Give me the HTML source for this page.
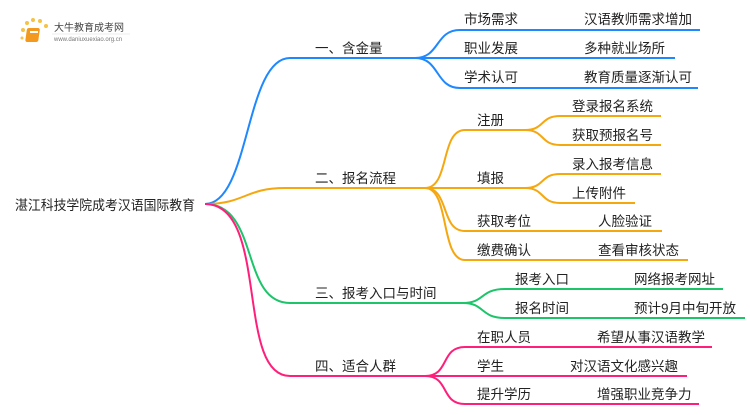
<!DOCTYPE html>
<html><head><meta charset="utf-8"><style>
html,body{margin:0;padding:0;background:#fff;}
svg text{font-family:"Liberation Sans","Noto Sans CJK SC",sans-serif;fill:#222;font-size:13.5px;}
</style></head><body>
<svg width="750" height="410" viewBox="0 0 750 410" xmlns="http://www.w3.org/2000/svg">
<g>
<circle cx="23" cy="30" r="2" fill="#f6c343"/><circle cx="27" cy="23" r="2" fill="#f6c343"/><circle cx="33" cy="20" r="2" fill="#f6c343"/><circle cx="40" cy="21" r="2" fill="#f6c343"/><circle cx="46" cy="26" r="2" fill="#f6c343"/><circle cx="22" cy="38" r="1.5" fill="#f6c343"/>
<rect x="31" y="28" width="13" height="14" rx="2" fill="#f39a1e" transform="skewX(-8)"/>
<rect x="30" y="31" width="8" height="2" fill="#fff"/>
<text x="54" y="31" style="font-size:10px;fill:#444">大牛教育成考网</text>
<text x="54" y="41" style="font-size:6px;fill:#777">www.daniuxuexiao.org.cn</text>
<line x1="52" y1="34" x2="130" y2="34" stroke="#ddd" stroke-width="0.5"/>
</g>
<g fill="none" stroke-width="2">
<path d="M205,204 C250,204 245,58 290,58 L415,58" stroke="#1e88ff"/>
<path d="M415,58 C440,58 435,30 460,30 L700,30" stroke="#1e88ff"/>
<path d="M415,58 L675,58" stroke="#1e88ff"/>
<path d="M415,58 C440,58 435,88 460,88 L698,88" stroke="#1e88ff"/>
<path d="M205,204 C245,204 245,188 285,188 L425,188" stroke="#f5a70f"/>
<path d="M425,188 C450,188 440,130 465,130 L525,130" stroke="#f5a70f"/>
<path d="M525,130 C545,130 540,116 560,116 L661,116" stroke="#f5a70f"/>
<path d="M525,130 C545,130 540,145 560,145 L661,145" stroke="#f5a70f"/>
<path d="M425,188 L525,188" stroke="#f5a70f"/>
<path d="M525,188 C545,188 540,174 560,174 L661,174" stroke="#f5a70f"/>
<path d="M525,188 C545,188 540,203 560,203 L635,203" stroke="#f5a70f"/>
<path d="M425,188 C450,188 440,231 465,231 L662,231" stroke="#f5a70f"/>
<path d="M425,188 C450,188 440,260 465,260 L688,260" stroke="#f5a70f"/>
<path d="M205,204 C260,204 240,303 290,303 L463,303" stroke="#1dc46a"/>
<path d="M463,303 C485,303 480,289 505,289 L723,289" stroke="#1dc46a"/>
<path d="M463,303 C485,303 480,318 505,318 L745,318" stroke="#1dc46a"/>
<path d="M205,204 C270,204 235,376 290,376 L425,376" stroke="#ff1f7a"/>
<path d="M425,376 C450,376 440,347 465,347 L712,347" stroke="#ff1f7a"/>
<path d="M425,376 L687,376" stroke="#ff1f7a"/>
<path d="M425,376 C450,376 440,404 465,404 L699,404" stroke="#ff1f7a"/>
</g>
<text x="15" y="210" textLength="180" lengthAdjust="spacingAndGlyphs">湛江科技学院成考汉语国际教育</text>
<text x="315" y="53">一、含金量</text>
<text x="315" y="183">二、报名流程</text>
<text x="315" y="298">三、报考入口与时间</text>
<text x="315" y="371">四、适合人群</text>
<text x="464" y="24">市场需求</text><text x="584" y="24">汉语教师需求增加</text>
<text x="464" y="53">职业发展</text><text x="584" y="53">多种就业场所</text>
<text x="464" y="82">学术认可</text><text x="584" y="82">教育质量逐渐认可</text>
<text x="477" y="125">注册</text><text x="572" y="111">登录报名系统</text><text x="572" y="140">获取预报名号</text>
<text x="477" y="183">填报</text><text x="572" y="169">录入报考信息</text><text x="572" y="198">上传附件</text>
<text x="477" y="226">获取考位</text><text x="598" y="226">人脸验证</text>
<text x="477" y="255">缴费确认</text><text x="598" y="255">查看审核状态</text>
<text x="515" y="284">报考入口</text><text x="634" y="284">网络报考网址</text>
<text x="515" y="313">报名时间</text><text x="634" y="313">预计9月中旬开放</text>
<text x="477" y="342">在职人员</text><text x="597" y="342">希望从事汉语教学</text>
<text x="477" y="371">学生</text><text x="570" y="371">对汉语文化感兴趣</text>
<text x="477" y="399">提升学历</text><text x="597" y="399">增强职业竞争力</text>
</svg>
</body></html>
